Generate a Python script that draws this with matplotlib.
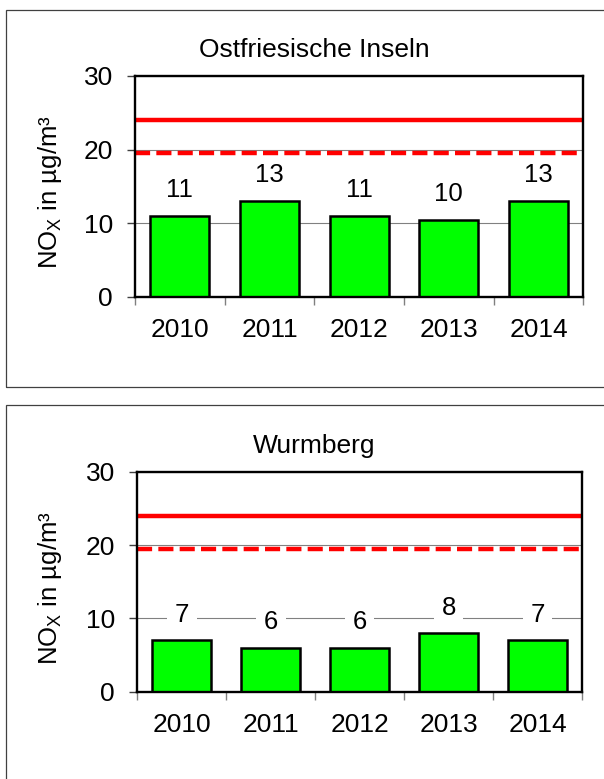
import matplotlib
matplotlib.use("Agg")
import matplotlib.pyplot as plt
from matplotlib.patches import Rectangle
import numpy as np

plt.rcParams['font.family'] = ['Liberation Sans', 'DejaVu Sans']
plt.rcParams['mathtext.fontset'] = 'custom'
plt.rcParams['mathtext.rm'] = 'Liberation Sans'
plt.rcParams['mathtext.it'] = 'Liberation Sans'

years = ['2010', '2011', '2012', '2013', '2014']
titles = ['Ostfriesische Inseln', 'Wurmberg']
values_ost = [11.0, 13.0, 11.0, 10.45, 13.0]
values_wurm = [7.0, 5.95, 5.95, 7.95, 7.0]
labels_ost = ['11', '13', '11', '10', '13']
labels_wurm = ['7', '6', '6', '8', '7']
limit_solid = 24.0
limit_dashed = 19.5
y_ticks = [0, 10, 20, 30]

W, H = 604, 779
fig = plt.figure(figsize=(W / 100, H / 100), dpi=100)

# panel frames (figure pixel coords)
def frame(x0, y0_top, y1_bottom):
    r = Rectangle((x0 / W, 1 - y1_bottom / H), 2.0, (y1_bottom - y0_top) / H,
                  transform=fig.transFigure, fill=False, ec='#404040', lw=0.9,
                  clip_on=False)
    fig.patches.append(r)

frame(5.5, 10, 386.7)
frame(5.5, 405, 1000)

panels = [
    dict(vals=values_ost, labs=labels_ost, title=titles[0],
         box=(135, 583.3, 76, 296.7), title_base=57, ylab=(-0.19, 0.475)),
    dict(vals=values_wurm, labs=labels_wurm, title=titles[1],
         box=(137.3, 582, 471.7, 691.7), title_base=453, ylab=(-0.196, 0.47)),
]

x = np.arange(len(years))
for p in panels:
    l, r, t, b = p['box']
    ax = fig.add_axes([l / W, 1 - b / H, (r - l) / W, (b - t) / H])
    ax.set_xlim(-0.5, len(years) - 0.5)
    ax.set_ylim(0, 30)
    ax.set_yticks(y_ticks)
    ax.yaxis.grid(True, color='#808080', lw=0.8, zorder=0)
    ax.set_axisbelow(True)
    ax.bar(x, p['vals'], width=0.66, color='#00FF00', edgecolor='black',
           lw=1.8, zorder=2)
    ax.axhline(limit_solid, color='#FF0000', lw=3.2, zorder=3)
    ax.axhline(limit_dashed, color='#FF0000', lw=3.2, zorder=3,
               dashes=(3.4, 1.4), dash_capstyle='butt')
    for xi, v, s in zip(x, p['vals'], p['labs']):
        ax.annotate(s, (xi, v), xytext=(0, 18.5), textcoords='offset points',
                    ha='center', va='center', fontsize=18.5, zorder=4,
                    bbox=dict(boxstyle='square,pad=0.3', fc='white', ec='none'))
    for sp in ax.spines.values():
        sp.set_linewidth(1.7)
        sp.set_color('black')
        sp.set_zorder(5)
    ax.set_xticks(x)
    ax.set_xticklabels(years, fontsize=19)
    ax.set_xticks(np.arange(-0.5, len(years)), minor=True)
    ax.tick_params(axis='x', which='major', length=0, pad=15.5)
    ax.tick_params(axis='x', which='minor', length=6, width=1, color='#808080',
                   direction='out')
    ax.tick_params(axis='y', which='major', length=6, width=1, color='#404040',
                   direction='out', pad=10, labelsize=19)
    ax.set_ylabel('NO$_\\mathrm{X}$ in µg/m³', fontsize=18.5, va='center')
    ax.yaxis.set_label_coords(*p['ylab'])
    fig.text(314 / W, 1 - p['title_base'] / H, p['title'], ha='center',
             va='baseline', fontsize=19)

fig.savefig('out.png', dpi=100)
